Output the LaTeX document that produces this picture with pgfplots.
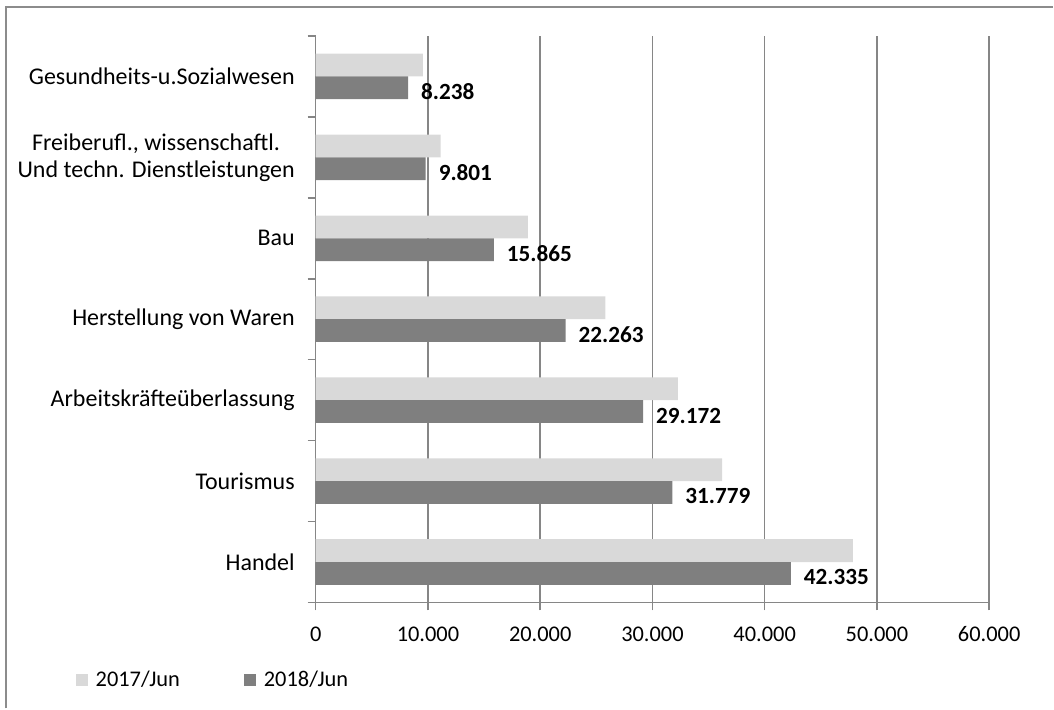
\documentclass[border=0pt]{standalone}
\usepackage{fontspec}
\setmainfont{Carlito}
\usepackage{pgfplots}
\pgfplotsset{compat=1.18}

\definecolor{barlight}{HTML}{D9D9D9}
\definecolor{bardark}{HTML}{7F7F7F}
\definecolor{linegray}{HTML}{868686}
\definecolor{framegray}{HTML}{8C8C8C}

\begin{document}
\begin{tikzpicture}
% page area and outer frame (left and top edges)
\path (0,0) rectangle (527pt,354.5pt);
\draw[framegray, line width=0.9pt] (3pt,0pt) -- (3pt,351pt) -- (527pt,351pt);

\begin{axis}[
  at={(158pt,53pt)}, anchor=south west,
  scale only axis,
  width=337pt, height=283.5pt,
  xbar,
  bar width=11.4pt,
  xmin=0, xmax=60000,
  ymin=-0.5, ymax=6.5,
  scaled x ticks=false,
  axis x line=bottom, axis y line=left,
  axis line style={-, draw=linegray, line width=0.75pt},
  xtick={0,10000,20000,30000,40000,50000,60000},
  xticklabels={0,10.000,20.000,30.000,40.000,50.000,60.000},
  ytick={0,1,2,3,4,5,6},
  yticklabels={Handel,Tourismus,Arbeitskräfteüberlassung,Herstellung von Waren,Bau,{Freiberufl., wissenschaftl.\\Und techn. Dienstleistungen},Gesundheits-u.Sozialwesen},
  minor ytick={-0.5,0.5,1.5,2.5,3.5,4.5,5.5,6.5},
  tick align=outside,
  major tick length=4pt,
  minor tick length=4pt,
  major y tick style={draw=none},
  minor y tick style={draw=linegray, line width=0.75pt},
  major x tick style={draw=linegray, line width=0.75pt},
  xmajorgrids,
  major grid style={draw=linegray, line width=0.75pt},
  xticklabel style={font=\fontsize{11.2}{12}\selectfont, yshift=-4.5pt},
  yticklabel style={font=\fontsize{12}{13.5}\selectfont, align=center, xshift=-3pt},
  legend columns=2,
  legend style={draw=none, fill=none, at={(-0.357,-0.1375)}, anchor=west,
    font=\fontsize{11.2}{12}\selectfont, inner sep=0pt,
    /tikz/every even column/.append style={column sep=30pt}},
  legend image code/.code={\fill[#1, draw=none] (0pt,-3pt) rectangle (6pt,3pt); \path (8pt,0pt);},
]
% 2017/Jun
\addplot[fill=barlight, draw=none, bar shift=5.7pt] coordinates {
  (47860,0) (36200,1) (32260,2) (25800,3) (18900,4) (11130,5) (9550,6)
};
% 2018/Jun, labelled with its values
\addplot[fill=bardark, draw=none, bar shift=-5.7pt,
  point meta=explicit symbolic,
  nodes near coords,
  nodes near coords style={font=\bfseries\fontsize{11.6}{12}\selectfont, black, anchor=west, xshift=3pt, yshift=-2pt}]
  coordinates {
  (42335,0) [42.335] (31779,1) [31.779] (29172,2) [29.172] (22263,3) [22.263]
  (15865,4) [15.865] (9801,5) [9.801] (8238,6) [8.238]
};
\legend{2017/Jun,2018/Jun}
\end{axis}
\end{tikzpicture}
\end{document}
